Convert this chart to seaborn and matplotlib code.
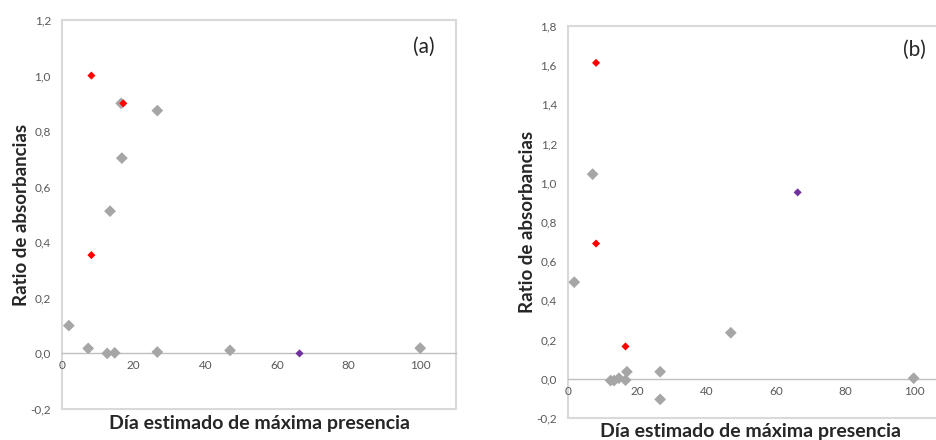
"""
Ratio de absorbancias vs dia estimado de maxima presencia, paneles (a) y (b)
"""

import numpy as np
import pandas as pd
import matplotlib
matplotlib.use('Agg')
import matplotlib.pyplot as plt
from matplotlib.ticker import FuncFormatter, MultipleLocator
import seaborn as sns

# Panel (a)
a_gray_x = [1.9, 7.3, 12.6, 14.7, 26.6, 46.9, 100.0, 13.4, 16.7, 26.6, 16.5]
a_gray_y = [0.10, 0.018, 0.0, 0.002, 0.005, 0.011, 0.019, 0.512, 0.703, 0.874, 0.90]
a_red_x = [8.2, 17.1, 8.2]
a_red_y = [1.0, 0.90, 0.354]
a_purple_x = [66.3]
a_purple_y = [0.0]

# Panel (b)
b_gray_x = [1.8, 7.1, 12.3, 13.3, 14.7, 16.6, 17.0, 26.6, 26.6, 47.0, 99.8]
b_gray_y = [0.493, 1.044, -0.009, -0.009, 0.003, -0.007, 0.036, 0.036, -0.105, 0.235, 0.003]
b_red_x = [8.1, 8.1, 16.6]
b_red_y = [1.612, 0.690, 0.165]
b_purple_x = [66.3]
b_purple_y = [0.951]

x_label = 'Día estimado de máxima presencia'
y_label = 'Ratio de absorbancias'

palette = {'gris': '#A6A6A6', 'rojo': '#FF0000', 'morado': '#7030A0'}
sizes = {'gris': 36, 'rojo': 17, 'morado': 17}

sns.set_style('white')
plt.rcParams['font.family'] = ['Lato', 'DejaVu Sans']


def build_df(gx, gy, rx, ry, px, py):
    """Stack the three groups, gray first so colored markers are on top"""
    return pd.DataFrame({
        'x': gx + rx + px,
        'y': gy + ry + py,
        'grupo': ['gris'] * len(gx) + ['rojo'] * len(rx) + ['morado'] * len(px),
    })


def style_axes(ax, ymax, tag):
    ax.set_xlim(0, 110)
    ax.set_ylim(-0.2, ymax)
    ax.xaxis.set_major_locator(MultipleLocator(20))
    ax.yaxis.set_major_locator(MultipleLocator(0.2))
    ax.xaxis.set_major_formatter(FuncFormatter(lambda v, p: f'{v:.0f}' if v <= 100 else ''))
    ax.yaxis.set_major_formatter(FuncFormatter(lambda v, p: f'{v:.1f}'.replace('.', ',').replace('-0,0', '0,0')))

    # Excel-like plot area frame + horizontal axis crossing at zero
    for side in ['left', 'top', 'right']:
        ax.spines[side].set_visible(False)
    ax.patch.set_edgecolor('#D9D9D9')
    ax.patch.set_linewidth(1.5)
    ax.spines['bottom'].set_position(('data', 0))
    ax.spines['bottom'].set_color('#BFBFBF')
    ax.spines['bottom'].set_linewidth(1.0)

    ax.tick_params(axis='both', length=0, labelsize=8.5, labelcolor='#595959')
    ax.tick_params(axis='x', pad=5)
    ax.tick_params(axis='y', pad=8)

    ax.set_xlabel(x_label, fontsize=14, fontweight='bold')
    ax.set_ylabel(y_label, fontsize=13.5, fontweight='bold')
    ax.text(0.93, 0.93, tag, transform=ax.transAxes, fontsize=15,
            ha='center', va='center')


fig = plt.figure(figsize=(9.37, 4.40), dpi=100)
ax_a = fig.add_axes([0.0662, 0.0705, 0.4205, 0.884])
ax_b = fig.add_axes([0.6062, 0.05, 0.4066, 0.891])

panels = [
    (ax_a, build_df(a_gray_x, a_gray_y, a_red_x, a_red_y, a_purple_x, a_purple_y), 1.2, '(a)'),
    (ax_b, build_df(b_gray_x, b_gray_y, b_red_x, b_red_y, b_purple_x, b_purple_y), 1.8, '(b)'),
]

for ax, df, ymax, tag in panels:
    sns.scatterplot(data=df, x='x', y='y', hue='grupo', size='grupo',
                    palette=palette, sizes=sizes, marker='D', linewidth=0,
                    legend=False, ax=ax, zorder=3, clip_on=False)
    style_axes(ax, ymax, tag)

ax_a.xaxis.set_label_coords(0.5, -0.016)
ax_a.yaxis.set_label_coords(-0.082, 0.5)
ax_a.texts[0].set_position((0.917, 0.93))

ax_b.xaxis.set_label_coords(0.48, -0.012)
ax_b.yaxis.set_label_coords(-0.084, 0.5)
ax_b.texts[0].set_position((0.91, 0.939))

fig.savefig('out.png', dpi=100)
plt.close(fig)
